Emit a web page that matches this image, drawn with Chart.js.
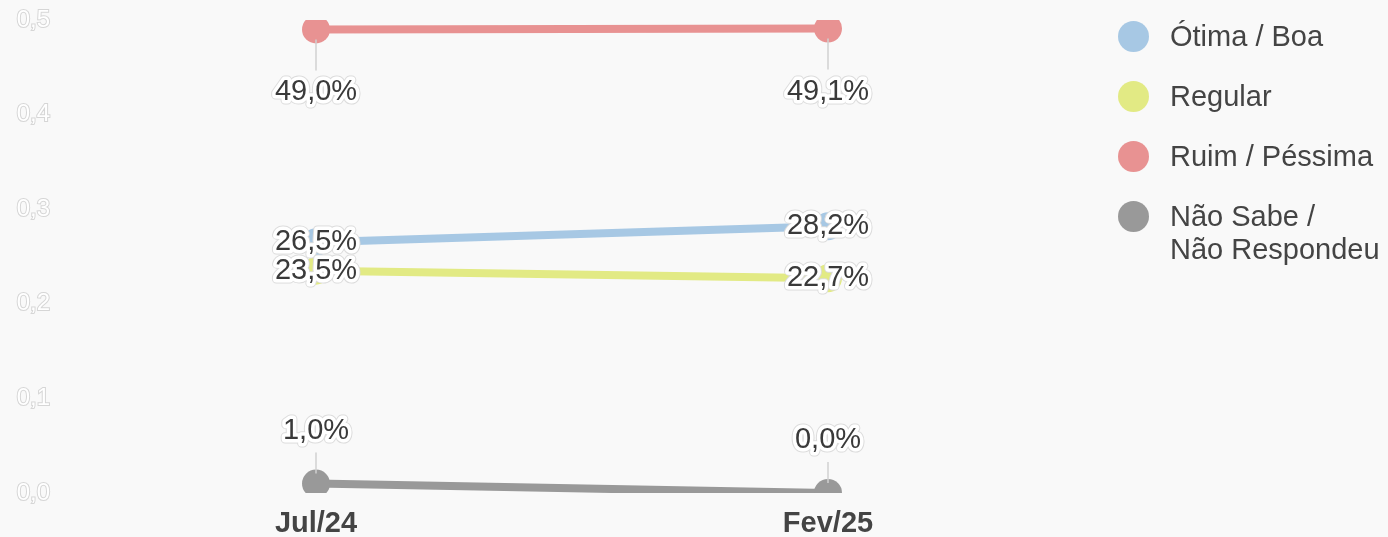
<!DOCTYPE html>
<html>
<head>
<meta charset="utf-8">
<script src="https://cdn.jsdelivr.net/npm/chart.js@4.4.1/dist/chart.umd.min.js"></script>
<style>
  html, body { margin: 0; padding: 0; background: #f9f9f9; }
  #wrap { position: relative; width: 1388px; height: 537px; }
  #legend { position: absolute; left: 1118px; top: 20px; font-family: "Liberation Sans", Arial, sans-serif; font-size: 29px; color: #444; }
  .item { position: relative; padding-left: 52px; margin-bottom: 27px; line-height: 33px; }
  .dot { position: absolute; left: 0; top: 1px; width: 31px; height: 31px; border-radius: 50%; }
</style>
</head>
<body>
<div id="wrap">
  <canvas id="canvas" width="1388" height="537"></canvas>
  <div id="legend"></div>
</div>
<script>
const labels = ['Jul/24', 'Fev/25'];
const seriesNames = ['Ótima / Boa', 'Regular', 'Ruim / Péssima', 'Não Sabe /\nNão Respondeu'];
const otimaBoa = [0.265, 0.282];
const regular = [0.235, 0.227];
const ruimPessima = [0.490, 0.491];
const naoSabe = [0.010, 0.000];
const colors = ['#a7c8e4', '#e2ea84', '#e89292', '#999999'];
// label offset in px from the point (negative = above)
const labelOffsets = [0, 0, 63, -53];

const allData = [otimaBoa, regular, ruimPessima, naoSabe];

const legend = document.getElementById('legend');
seriesNames.forEach((name, i) => {
  const div = document.createElement('div');
  div.className = 'item';
  div.innerHTML = '<span class="dot" style="background:' + colors[i] + '"></span>' + name.replace('\n', '<br>');
  legend.appendChild(div);
});

const fmt = v => (v * 100).toFixed(1).replace('.', ',') + '%';

const valueLabels = {
  id: 'valueLabels',
  afterDatasetsDraw(chart) {
    const ctx = chart.ctx;
    ctx.save();
    ctx.font = '29px "Liberation Sans", Arial, sans-serif';
    ctx.textAlign = 'center';
    ctx.textBaseline = 'middle';
    ctx.lineJoin = 'round';
    chart.data.datasets.forEach((ds, i) => {
      const meta = chart.getDatasetMeta(i);
      meta.data.forEach((pt, j) => {
        const off = labelOffsets[i];
        const x = pt.x;
        const y = pt.y + off;
        if (off !== 0) {
          ctx.strokeStyle = '#d0d0d0';
          ctx.lineWidth = 1.5;
          ctx.beginPath();
          const s = off > 0 ? 1 : -1;
          ctx.moveTo(x, pt.y + s * 10);
          ctx.lineTo(x, y - s * 22);
          ctx.stroke();
        }
        const txt = fmt(ds.data[j]);
        ctx.strokeStyle = '#dcdcdc';
        ctx.lineWidth = 9;
        ctx.strokeText(txt, x, y);
        ctx.strokeStyle = '#ffffff';
        ctx.lineWidth = 7;
        ctx.strokeText(txt, x, y);
        ctx.fillStyle = '#3a3a3a';
        ctx.fillText(txt, x, y);
      });
    });
    ctx.restore();
  }
};

const ctx = document.getElementById('canvas').getContext('2d');
new Chart(ctx, {
  type: 'line',
  data: {
    labels: labels,
    datasets: allData.map((d, i) => ({
      label: seriesNames[i],
      data: d,
      borderColor: colors[i],
      backgroundColor: colors[i],
      borderWidth: 8,
      pointRadius: 14,
      pointBorderWidth: 0,
      pointBackgroundColor: colors[i],
      clip: { left: false, right: false, top: 0, bottom: 0 }
    }))
  },
  options: {
    responsive: false,
    animation: false,
    layout: { padding: { top: 20, right: 304, bottom: 0, left: 0 } },
    plugins: { legend: { display: false }, tooltip: { enabled: false } },
    scales: {
      x: {
        offset: true,
        afterFit(scale) { scale.height = 44; },
        grid: { display: false, drawTicks: false },
        border: { display: false },
        ticks: {
          padding: 14,
          color: '#444',
          font: { family: '"Liberation Sans", Arial, sans-serif', size: 29, weight: 'bold' }
        }
      },
      y: {
        min: 0,
        max: 0.5,
        afterFit(scale) {
          scale.width = 60;
          scale.paddingTop = 0;
          scale.paddingBottom = 0;
        },
        grid: { display: false, drawTicks: false },
        border: { display: false },
        ticks: {
          stepSize: 0.1,
          padding: 10,
          color: '#ffffff',
          textStrokeColor: '#d6d6d6',
          textStrokeWidth: 2,
          font: { family: '"Liberation Sans", Arial, sans-serif', size: 24 },
          callback: v => v.toFixed(1).replace('.', ',')
        }
      }
    }
  },
  plugins: [valueLabels]
});
</script>
</body>
</html>
